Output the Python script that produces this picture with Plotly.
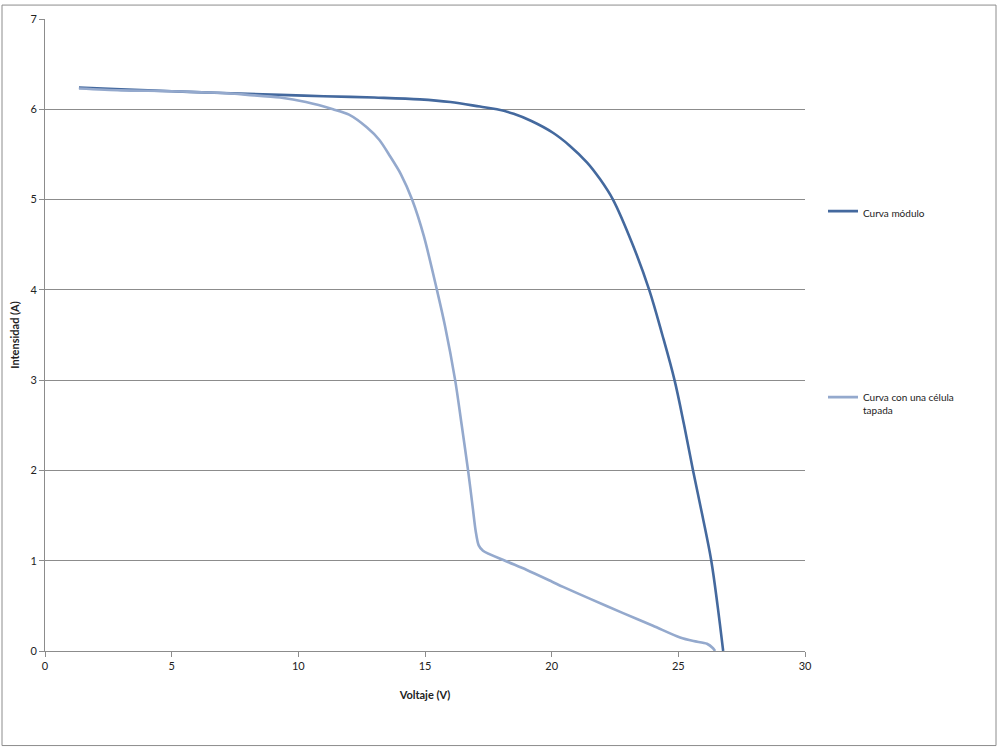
import plotly.graph_objects as go

# Curva módulo
v_mod = [1.34, 3, 5, 7, 9.28, 11, 13, 14.8, 16, 17.17, 17.84, 18.5, 19.2, 20.05, 20.7, 21.4, 21.9,
         22.42, 23.2, 23.85, 24.37, 24.85, 25.23, 25.58, 25.95, 26.3, 26.55, 26.77]
i_mod = [6.24, 6.22, 6.20, 6.18, 6.16, 6.145, 6.13, 6.11, 6.08, 6.03, 6.0, 5.95, 5.87, 5.74, 5.60, 5.41, 5.23,
         5.00, 4.50, 4.00, 3.50, 3.00, 2.50, 2.00, 1.50, 1.00, 0.50, 0.0]

# Curva con una célula tapada
v_tap = [1.34, 3, 5, 7, 8, 9.28, 10.3, 11.37, 12.0, 12.7, 13.2, 13.62, 14.05, 14.49, 14.95, 15.47, 15.79,
         16.19, 16.45, 16.70, 16.88, 17.0, 17.12, 17.29, 18.16, 19.0, 20.0, 20.45, 21.5, 22.82, 24.0,
         25.07, 25.6, 26.13, 26.37, 26.45]
i_tap = [6.23, 6.21, 6.20, 6.18, 6.16, 6.13, 6.08, 6.00, 5.94, 5.80, 5.66, 5.48, 5.28, 5.00, 4.60, 4.00, 3.60,
         3.00, 2.50, 2.00, 1.60, 1.33, 1.17, 1.11, 1.00, 0.90, 0.77, 0.71, 0.58, 0.42, 0.28,
         0.15, 0.11, 0.08, 0.03, 0.0]

names = ["Curva módulo", "Curva con una célula<br>tapada"]
colors = ["#44699e", "#94a9cd"]

FONT = "Lato, 'Open Sans', sans-serif"

fig = go.Figure()
fig.add_trace(go.Scatter(x=v_mod, y=i_mod, mode="lines", name=names[0], legendgroup="a",
                         line=dict(color=colors[0], width=2.6, shape="spline", smoothing=1.0)))
fig.add_trace(go.Scatter(x=v_tap, y=i_tap, mode="lines", name=names[1], legendgroup="b",
                         line=dict(color=colors[1], width=2.6, shape="spline", smoothing=0.8)))

L, R, T, B = 45, 195, 16, 97
W, H = 1000, 748
pw, ph = W - L - R, H - T - B

def px_x(p):
    return (p - L) / pw

def px_y(p):
    return (H - B - p) / ph

fig.update_layout(
    width=W, height=H,
    margin=dict(l=L, r=R, t=T, b=B),
    paper_bgcolor="white", plot_bgcolor="white",
    font=dict(family=FONT, size=11, color="#222"),
    showlegend=True,
    legend=dict(x=px_x(823), y=px_y(196), xanchor="left", yanchor="top",
                traceorder="grouped", tracegroupgap=167, valign="top",
                font=dict(family=FONT, size=10, color="#222"),
                bgcolor="rgba(0,0,0,0)", itemwidth=30),
    xaxis=dict(range=[0, 30], tickvals=[0, 5, 10, 15, 20, 25, 30], showgrid=False,
               showline=True, linecolor="#8c8c8c", linewidth=1,
               ticks="outside", ticklen=5, tickcolor="#8c8c8c", zeroline=False,
               title=dict(text="<b>Voltaje (V)</b>", standoff=20,
                          font=dict(family=FONT, size=11, color="#222"))),
    yaxis=dict(range=[0, 7], tickvals=[0, 1, 2, 3, 4, 5, 6, 7], showgrid=True,
               gridcolor="#8c8c8c", gridwidth=1,
               showline=True, linecolor="#8c8c8c", linewidth=1,
               ticks="outside", ticklen=5, tickcolor="#8c8c8c", zeroline=False,
               title=dict(text="<b>Intensidad (A)</b>", standoff=8,
                          font=dict(family=FONT, size=11, color="#222"))),
)

# outer chart border
fig.add_shape(type="rect", xref="paper", yref="paper",
              x0=px_x(2), x1=px_x(996), y0=px_y(746), y1=px_y(2),
              line=dict(color="#8c8c8c", width=1), fillcolor="rgba(0,0,0,0)", layer="below")

fig.write_html("out.html", config={"displayModeBar": False},
               post_script="document.body.style.margin='0';document.body.style.overflow='hidden';")
